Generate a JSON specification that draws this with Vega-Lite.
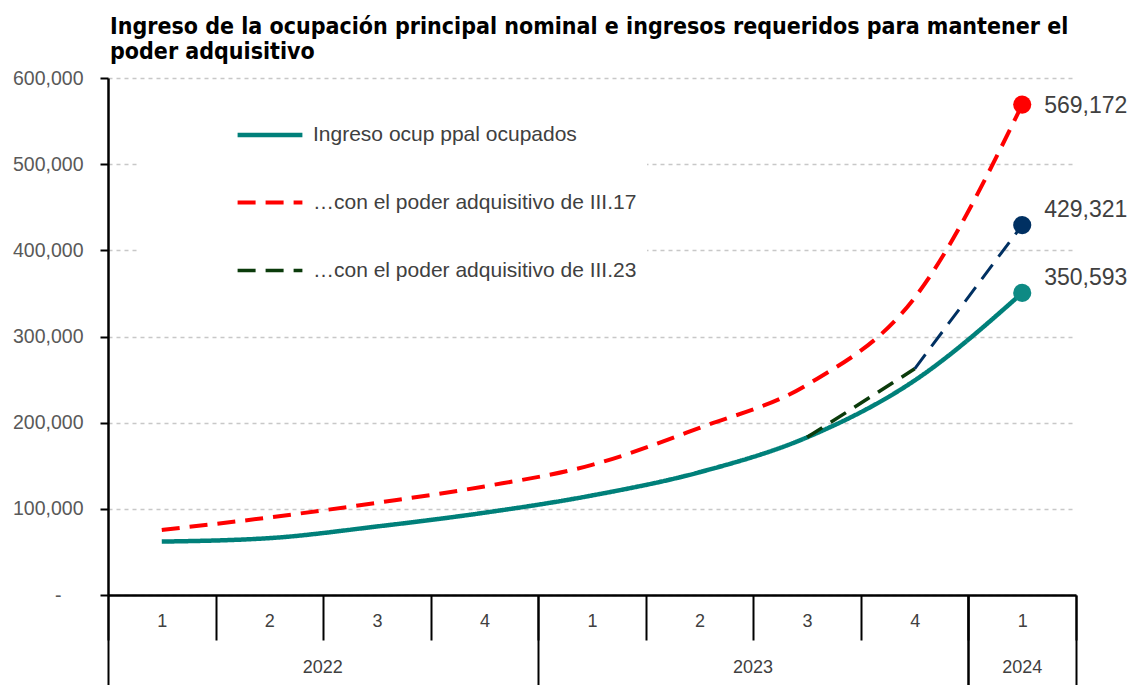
{
  "$schema": "https://vega.github.io/schema/vega-lite/v6.json",
  "width": 968,
  "height": 517,
  "autosize": {"type": "none"},
  "padding": {"left": 108, "top": 78, "right": 64, "bottom": 90},
  "background": "white",
  "config": {"view": {"stroke": null}, "font": "Liberation Sans"},
  "title": {
    "text": ["Ingreso de la ocupación principal nominal e ingresos requeridos para mantener el", "poder adquisitivo"],
    "anchor": "start",
    "frame": "group",
    "font": "DejaVu Sans Condensed",
    "fontSize": 23,
    "fontWeight": "bold",
    "color": "#000000",
    "lineHeight": 25,
    "offset": 4,
    "dx": 2
  },
  "data": {
    "values": [
      {"series": "Ingreso ocup ppal ocupados", "q": "2022-1", "v": 62000},
      {"series": "Ingreso ocup ppal ocupados", "q": "2022-2", "v": 66000},
      {"series": "Ingreso ocup ppal ocupados", "q": "2022-3", "v": 79500},
      {"series": "Ingreso ocup ppal ocupados", "q": "2022-4", "v": 95500},
      {"series": "Ingreso ocup ppal ocupados", "q": "2023-1", "v": 115500},
      {"series": "Ingreso ocup ppal ocupados", "q": "2023-2", "v": 142500},
      {"series": "Ingreso ocup ppal ocupados", "q": "2023-3", "v": 183000},
      {"series": "Ingreso ocup ppal ocupados", "q": "2023-4", "v": 249000},
      {"series": "Ingreso ocup ppal ocupados", "q": "2024-1", "v": 350593},
      {"series": "…con el poder adquisitivo de III.17", "q": "2022-1", "v": 75500},
      {"series": "…con el poder adquisitivo de III.17", "q": "2022-2", "v": 90000},
      {"series": "…con el poder adquisitivo de III.17", "q": "2022-3", "v": 107000},
      {"series": "…con el poder adquisitivo de III.17", "q": "2022-4", "v": 126000},
      {"series": "…con el poder adquisitivo de III.17", "q": "2023-1", "v": 151000},
      {"series": "…con el poder adquisitivo de III.17", "q": "2023-2", "v": 194000},
      {"series": "…con el poder adquisitivo de III.17", "q": "2023-3", "v": 244000},
      {"series": "…con el poder adquisitivo de III.17", "q": "2023-4", "v": 345000},
      {"series": "…con el poder adquisitivo de III.17", "q": "2024-1", "v": 569172},
      {"series": "…con el poder adquisitivo de III.23", "q": "2023-3", "v": 183000},
      {"series": "…con el poder adquisitivo de III.23", "q": "2023-4", "v": 262500},
      {"series": "proyección III.23", "q": "2023-4", "v": 262500},
      {"series": "proyección III.23", "q": "2024-1", "v": 429321}
    ]
  },
  "layer": [
    {
      "mark": {"type": "line", "interpolate": "monotone"},
      "encoding": {
        "x": {
          "field": "q", "type": "nominal",
          "scale": {"type": "band", "paddingInner": 0, "paddingOuter": 0,
            "domain": ["2022-1","2022-2","2022-3","2022-4","2023-1","2023-2","2023-3","2023-4","2024-1"]},
          "axis": {
            "orient": "bottom", "title": null, "tickBand": "extent",
            "labelExpr": "split(datum.value,'-')[1]", "labelAngle": 0,
            "labelFont": "Liberation Sans", "labelFontSize": 18, "labelColor": "#404040",
            "labelPadding": -28, "tickSize": 45, "tickColor": "#000000", "tickWidth": 2,
            "domainColor": "#000000", "domainWidth": 2.5, "grid": false
          }
        },
        "y": {
          "field": "v", "type": "quantitative",
          "scale": {"domain": [0, 600000], "nice": false},
          "axis": {
            "title": null,
            "values": [0, 100000, 200000, 300000, 400000, 500000, 600000],
            "labelExpr": "datum.value == 0 ? '-' : format(datum.value, ',')",
            "labelFont": "Liberation Sans", "labelFontSize": 19.5, "labelColor": "#595959",
            "labelPadding": {"condition": {"test": "datum.value == 0", "value": 39}, "value": 17},
            "tickSize": 8, "tickColor": "#000000", "tickWidth": 2,
            "domainColor": "#000000", "domainWidth": 2.5,
            "grid": true, "gridDash": [4, 4], "gridColor": "#C8C8C8", "gridWidth": 1.5
          }
        },
        "color": {
          "field": "series", "type": "nominal",
          "scale": {
            "domain": ["Ingreso ocup ppal ocupados", "…con el poder adquisitivo de III.17", "…con el poder adquisitivo de III.23", "proyección III.23"],
            "range": ["#00807A", "#FF0000", "#0B3B0B", "#003062"]
          },
          "legend": {
            "title": null, "orient": "none", "legendX": 30, "legendY": 12,
            "values": ["Ingreso ocup ppal ocupados", "…con el poder adquisitivo de III.17", "…con el poder adquisitivo de III.23"],
            "fillColor": "white", "padding": 10, "symbolType": "stroke", "symbolSize": 4200,
            "symbolStrokeWidth": 3.5, "symbolOffset": 87,
            "labelFont": "Liberation Sans", "labelFontSize": 21, "labelColor": "#404040",
            "labelOffset": 8, "rowPadding": 23, "labelLimit": 700
          }
        },
        "strokeDash": {
          "field": "series", "type": "nominal",
          "scale": {
            "domain": ["Ingreso ocup ppal ocupados", "…con el poder adquisitivo de III.17", "…con el poder adquisitivo de III.23", "proyección III.23"],
            "range": [[1, 0], [18, 10], [18, 10], [18, 10]]
          },
          "legend": {
            "title": null, "orient": "none", "legendX": 30, "legendY": 12,
            "values": ["Ingreso ocup ppal ocupados", "…con el poder adquisitivo de III.17", "…con el poder adquisitivo de III.23"],
            "fillColor": "white", "padding": 10, "symbolType": "stroke", "symbolSize": 4200,
            "symbolStrokeWidth": 3.5, "symbolOffset": 87,
            "labelFont": "Liberation Sans", "labelFontSize": 21, "labelColor": "#404040",
            "labelOffset": 8, "rowPadding": 23, "labelLimit": 700
          }
        },
        "strokeWidth": {
          "field": "series", "type": "nominal",
          "scale": {
            "domain": ["Ingreso ocup ppal ocupados", "…con el poder adquisitivo de III.17", "…con el poder adquisitivo de III.23", "proyección III.23"],
            "range": [4.5, 3, 3, 3]
          },
          "legend": null
        }
      }
    },
    {
      "transform": [{"filter": "datum.q == '2024-1'"}],
      "mark": {"type": "circle", "size": 330, "opacity": 1},
      "encoding": {
        "x": {
          "field": "q", "type": "nominal",
          "axis": {
            "orient": "bottom", "title": null,
            "values": ["2022-1", "2023-1", "2024-1"], "bandPosition": 0,
            "labelExpr": "split(datum.value,'-')[0]", "labelAngle": 0,
            "labelOffset": {"condition": {"test": "datum.value == '2024-1'", "value": 0}, "value": 161},
            "labelFont": "Liberation Sans", "labelFontSize": 18, "labelColor": "#404040",
            "labelPadding": -27, "tickSize": 90, "tickColor": "#000000", "tickWidth": 2,
            "domain": false, "grid": false
          }
        },
        "y": {"field": "v", "type": "quantitative"},
        "fill": {
          "field": "series", "type": "nominal",
          "scale": {
            "domain": ["Ingreso ocup ppal ocupados", "…con el poder adquisitivo de III.17", "…con el poder adquisitivo de III.23", "proyección III.23"],
            "range": ["#0E8A84", "#FF0000", "#0B3B0B", "#003062"]
          },
          "legend": null
        }
      }
    },
    {
      "transform": [{"filter": "datum.q == '2024-1' && datum.v > 500000"}],
      "mark": {"type": "text", "align": "left", "baseline": "middle", "dx": 22, "dy": 1, "fontSize": 23, "font": "Liberation Sans", "color": "#404040"},
      "encoding": {
        "x": {
          "field": "q", "type": "nominal",
          "axis": {
            "orient": "bottom", "title": null, "values": ["2024-1"], "tickBand": "extent",
            "tickSize": 90, "tickColor": "#000000", "tickWidth": 2,
            "labels": false, "domain": false, "grid": false
          }
        },
        "y": {"field": "v", "type": "quantitative"},
        "text": {"field": "v", "type": "quantitative", "format": ",.0f"}
      }
    },
    {
      "transform": [{"filter": "datum.q == '2024-1' && datum.v < 500000"}],
      "mark": {"type": "text", "align": "left", "baseline": "middle", "dx": 22, "dy": -15, "fontSize": 23, "font": "Liberation Sans", "color": "#404040"},
      "encoding": {
        "x": {"field": "q", "type": "nominal", "axis": null},
        "y": {"field": "v", "type": "quantitative"},
        "text": {"field": "v", "type": "quantitative", "format": ",.0f"}
      }
    }
  ],
  "resolve": {"axis": {"x": "independent"}}
}
